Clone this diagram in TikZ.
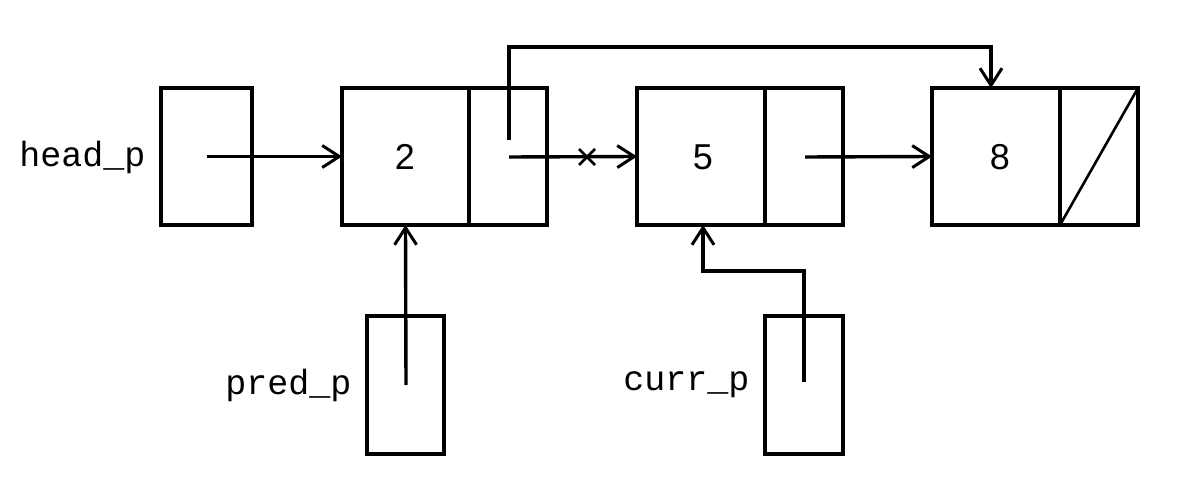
\documentclass[tikz,border=0pt]{standalone}
\usepackage{fontspec}
\setmainfont{Liberation Sans}
\newfontfamily\labfont{Liberation Mono}
\usetikzlibrary{arrows.meta}
\begin{document}
\begin{tikzpicture}[x=1pt,y=-1pt,line width=3.4pt,
  cell/.style={draw,rectangle,inner sep=0pt,outer sep=0pt,minimum height=137pt},
  ptr/.style={-{Straight Barb[length=17pt,width=22pt,line width=3pt]}},
  lab/.style={inner sep=0pt,anchor=east,font=\labfont\fontsize{35}{40}\selectfont},
  num/.style={font=\fontsize{36}{40}\selectfont}]
\useasboundingbox (0,0) rectangle (1189,489);
% pointer variable boxes
\node[cell,minimum width=91pt] (head) at (206.5,156.5) {};
\node[cell,minimum width=77pt,minimum height=138pt] (pred) at (405.5,385) {};
\node[cell,minimum width=78pt,minimum height=138pt] (curr) at (804,385) {};
% list nodes
\node[cell,minimum width=127pt] (d1) at (405.5,156.5) {};
\node[cell,minimum width=78pt] (p1) at (508,156.5) {};
\node[cell,minimum width=128pt] (d2) at (701,156.5) {};
\node[cell,minimum width=78pt] (p2) at (804,156.5) {};
\node[cell,minimum width=128pt] (d3) at (996,156.5) {};
\node[cell,minimum width=78pt] (p3) at (1099,156.5) {};
\draw[line width=2.6pt] (p3.south west) -- (p3.north east);
% values
\node[num] (v1) at (405,157) {2};
\node[num] (v2) at (703,157) {5};
\node[num] (v3) at (1000,157) {8};
% labels
\node[lab] (lhead) at (147,157) {head\_p};
\node[lab] (lpred) at (353,385) {pred\_p};
\node[lab] (lcurr) at (751,385) {curr\_p};
% start coordinates
\coordinate (hs) at (head.center);
\coordinate (p1s) at (509,157);
\coordinate (p1t) at (509,140);
\coordinate (p2s) at (805,157);
\coordinate (ps) at (406,385);
\coordinate (cs) at (804,382);
\coordinate (xm) at (587,157);
% connectors
\draw[ptr] (hs) -- (d1.west);
\draw[ptr] (p1s) -- (d2.west);
\draw[ptr] (p2s) -- (d3.west);
\draw[ptr] (p1t) -- (509,47) -- (991,47) -- (991,88);
\draw[ptr] (ps) -- (d1.south);
\draw[ptr] (cs) -- (804,271) -- (703,271) -- (703,225);
% cross mark
\draw[line width=2.6pt] ([shift={(-8,-8)}]xm) -- ([shift={(8,8)}]xm)
  ([shift={(-8,8)}]xm) -- ([shift={(8,-8)}]xm);
\end{tikzpicture}
\end{document}
